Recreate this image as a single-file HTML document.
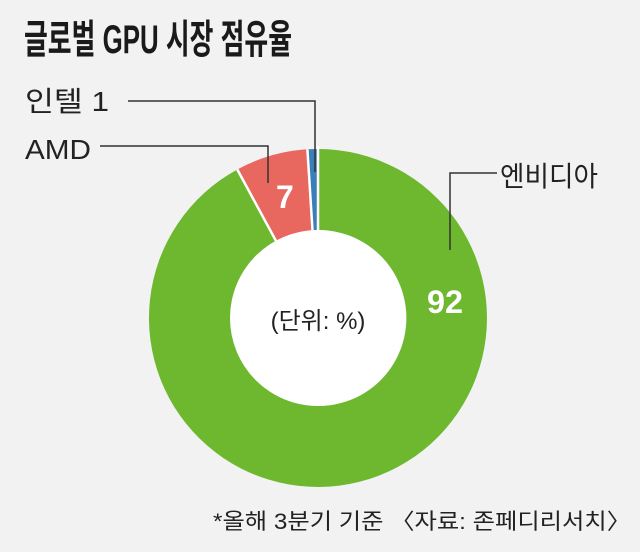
<!DOCTYPE html>
<html><head><meta charset="utf-8"><style>
body{margin:0;background:#f2f2f2;}
svg{display:block}
</style></head><body>
<svg width="640" height="552" viewBox="0 0 640 552" xmlns="http://www.w3.org/2000/svg" font-family="'Liberation Sans','Noto Sans CJK KR',sans-serif">
<rect width="640" height="552" fill="#f2f2f2"/>
<text x="24" y="53" font-size="40" font-weight="bold" fill="#1a1a1a" textLength="268" lengthAdjust="spacingAndGlyphs">글로벌 GPU 시장 점유율</text>
<path d="M318,149 A169,169 0 1,1 237.3,169.5 L276,240.9 A88,88 0 1,0 318,230 Z" fill="#6eb830"/>
<path d="M237.3,169.5 A169,169 0 0,1 307.4,149.3 L312.5,230.2 A88,88 0 0,0 276,240.9 Z" fill="#e8675f"/>
<path d="M307.4,149.3 A169,169 0 0,1 318,149 L318,230 A88,88 0 0,0 312.5,230.2 Z" fill="#3a7fb8"/>
<g stroke="#ffffff" stroke-width="2.5">
<line x1="318" y1="146" x2="318" y2="232"/>
<line x1="307.4" y1="149.3" x2="312.5" y2="230.2"/>
<line x1="237.3" y1="169.5" x2="276" y2="240.9"/>
</g>
<circle cx="318" cy="318" r="88" fill="#ffffff"/>
<g stroke="#333" stroke-width="1.5" fill="none">
<polyline points="128,101 315,101 315,172"/>
<polyline points="100,146 268,146 268,183"/>
<polyline points="497,173 450,173 450,250"/>
</g>
<text x="25" y="111" font-size="28" fill="#222" textLength="84" lengthAdjust="spacingAndGlyphs">인텔  1</text>
<text x="25" y="159" font-size="28" fill="#222" textLength="66" lengthAdjust="spacingAndGlyphs">AMD</text>
<text x="500" y="186" font-size="28" fill="#222" textLength="98" lengthAdjust="spacingAndGlyphs">엔비디아</text>
<text x="276" y="208" font-size="32" fill="#fff" font-weight="bold">7</text>
<text x="427" y="313" font-size="32" fill="#fff" font-weight="bold" textLength="36" lengthAdjust="spacingAndGlyphs">92</text>
<text x="318" y="329" font-size="24" fill="#222" text-anchor="middle">(단위: %)</text>
<text x="213" y="529" font-size="22" fill="#222" textLength="418" lengthAdjust="spacingAndGlyphs">*올해 3분기 기준  〈자료: 존페디리서치〉</text>
</svg>
</body></html>
